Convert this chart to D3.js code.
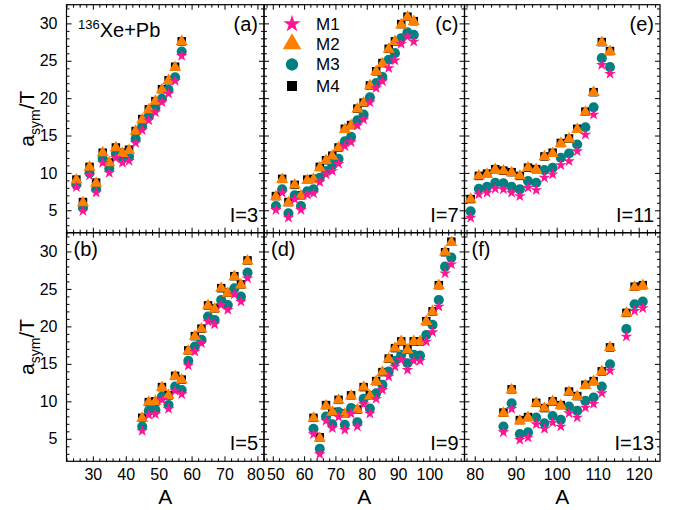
<!DOCTYPE html>
<html><head><meta charset="utf-8">
<script src="https://cdn.jsdelivr.net/npm/d3@7"></script>
<style>
body{margin:0;background:#fff;}
text{font-family:"Liberation Sans",Arial,sans-serif;fill:#000;}
</style></head>
<body><svg id="chart" width="673" height="510"></svg>
<script>
// ---- data ----
const A_a = [25,27,29,31,33,35,37,39,41,43,45,47,49,51,53,55,57];
const M1_a = [8.1,4.9,9.66,7.36,11.35,10.0,12.0,11.35,11.6,14.0,15.7,17.03,18.1,19.45,20.6,22.3,25.66];
const M2_a = [9.04,6.02,10.77,8.6,12.68,11.35,13.35,12.6,13.0,15.57,17.12,18.46,19.57,21.13,22.37,24.1,27.57];
const M3_a = [8.42,5.35,10.0,7.85,11.93,10.55,12.6,11.9,12.2,14.55,16.25,17.57,18.7,19.9,21.1,22.8,26.24];
const M4_a = [9.1,6.1,10.8,8.7,12.7,11.4,13.4,12.7,13.1,15.6,17.2,18.5,19.6,21.2,22.4,24.2,27.6];

const A_b = [45,47,49,51,53,55,57,59,61,63,65,67,69,71,73,75,77];
const M1_b = [6.06,8.2,8.28,10.2,8.99,11.39,10.95,14.77,16.64,17.75,20.64,20.28,22.86,22.2,24.28,23.3,26.42];
const M2_b = [7.75,9.88,9.97,11.84,10.77,13.3,12.86,16.73,18.64,19.66,22.77,22.33,25.08,24.42,26.64,25.52,28.72];
const M3_b = [6.64,8.73,8.86,10.64,9.52,11.97,11.52,15.4,17.3,18.2,21.3,20.86,23.53,22.86,25.08,23.97,27.17];
const M4_b = [7.8,9.9,10.0,11.9,10.8,13.4,12.9,16.8,18.7,19.7,22.8,22.4,25.1,24.5,26.7,25.6,28.8];

const A_c = [51,53,55,57,59,61,63,65,67,69,71,73,75,77,79,81,83,85,87,89,91,93,95];
const M1_c = [5.04,7.35,4.02,6.46,5.04,7.1,7.27,8.77,9.8,10.24,11.22,13.57,14.1,16.33,17.12,19.43,21.35,22.24,24.02,25.04,27.26,28.24,27.57];
const M2_c = [6.82,9.13,6.02,8.37,6.9,8.99,9.13,10.68,11.66,12.24,13.35,15.79,16.33,18.55,19.35,21.66,23.57,24.6,26.55,27.57,29.8,30.82,30.24];
const M3_c = [5.57,7.8,4.6,6.99,5.57,7.55,7.8,9.35,10.24,11.04,11.88,14.24,14.82,17.04,17.79,20.1,22.02,22.82,25.13,26.02,28.02,28.82,28.46];
const M4_c = [6.9,9.2,6.1,8.4,7.0,9.1,9.2,10.8,11.7,12.3,13.4,15.9,16.4,18.6,19.4,21.7,23.6,24.7,26.6,27.6,29.9,30.9,30.3];

const A_d = [63,65,67,69,71,73,75,77,79,81,83,85,87,89,91,93,95,97,99,101,103,105,107];
const M1_d = [5.62,2.95,7.4,6.42,7.92,6.2,8.37,6.64,9.62,8.37,10.33,11.52,13.3,14.64,15.53,14.2,15.4,15.4,17.97,19.22,22.64,27.08,28.28];
const M2_d = [7.75,5.08,9.39,8.55,10.14,8.28,10.72,8.86,11.88,10.72,12.64,13.88,15.66,17.08,17.97,16.86,17.97,17.97,20.64,21.97,25.44,29.88,31.2];
const M3_d = [6.33,3.66,7.97,6.95,8.58,6.86,9.12,7.22,10.33,9.03,11.08,12.2,13.97,15.4,16.2,15.08,16.2,16.1,18.86,20.2,23.53,27.97,29.17];
const M4_d = [7.8,5.2,9.5,8.6,10.2,8.4,10.8,8.9,11.9,10.8,12.7,13.9,15.7,17.1,18.0,16.9,18.0,18.0,20.7,22.0,25.5,29.9,31.3];

const A_e = [79,81,83,85,87,89,91,93,95,97,99,101,103,105,107,109,111,113];
const M1_e = [4.0,7.13,7.35,7.88,7.8,7.35,6.9,8.02,7.7,9.35,9.8,11.04,11.57,12.9,15.13,17.8,24.46,23.26];
const M2_e = [6.46,9.57,9.8,10.46,10.24,10.02,9.57,10.68,10.46,12.15,12.6,13.93,14.55,15.8,18.1,20.77,27.44,26.24];
const M3_e = [4.86,7.88,8.15,8.68,8.6,8.15,7.8,8.9,8.68,10.37,10.68,12.02,12.6,13.8,16.1,18.77,25.35,24.15];
const M4_e = [6.5,9.6,9.9,10.5,10.3,10.1,9.6,10.7,10.5,12.2,12.7,14.0,14.6,15.9,18.2,20.8,27.5,26.3];

const A_f = [87,89,91,93,95,97,99,101,103,105,107,109,111,113,117,119,121];
const M1_f = [5.88,9.0,4.86,5.17,6.95,6.33,7.17,6.64,8.42,7.84,9.17,9.66,11.08,14.1,18.64,22.06,22.42];
const M2_f = [8.42,11.53,7.39,7.84,9.75,9.08,9.97,9.44,11.22,10.64,12.11,12.64,13.97,17.17,21.75,25.22,25.44];
const M3_f = [6.64,9.75,5.62,5.88,7.84,7.08,8.05,7.53,9.3,8.73,10.06,10.51,11.97,14.95,19.66,22.95,23.31];
const M4_f = [8.5,11.6,7.5,7.9,9.8,9.1,10.0,9.5,11.3,10.7,12.2,12.7,14.0,17.2,21.8,25.3,25.5];

const seriesNames = ["M1","M2","M3","M4"];
const panelLabels = ["(a)","(b)","(c)","(d)","(e)","(f)"];
const isospin = ["I=3","I=5","I=7","I=9","I=11","I=13"];
const yTicks = [5,10,15,20,25,30];
const xTicks1 = [30,40,50,60,70,80];
const xTicks2 = [50,60,70,80,90,100];
const xTicks3 = [80,90,100,110,120];

// ---- layout ----
const svg = d3.select("#chart");
svg.append("rect").attr("width",673).attr("height",510).attr("fill","#fff");
const colR = [[66.5,264],[264,464.5],[464.5,660]];
const rowR = [[4.7,232.7],[232.7,461.3]];
const xDom = [[22,82],[47.2,111.2],[77.5,125.2]];
const xMaj = [xTicks1,xTicks2,xTicks3];
const yDom = [2,32.5];

const colors = {M1:"#ff1493",M2:"#ff8000",M3:"#008080",M4:"#000000"};
const symT = {M1:d3.symbolStar,M2:d3.symbolTriangle,M3:d3.symbolCircle,M4:d3.symbolSquare};
const symS = {M1:42,M2:64,M3:80,M4:72};
const legS = {M1:95,M2:150,M3:120,M4:100};

const panels = [
  {c:0,r:0,A:A_a,S:{M1:M1_a,M2:M2_a,M3:M3_a,M4:M4_a}},
  {c:0,r:1,A:A_b,S:{M1:M1_b,M2:M2_b,M3:M3_b,M4:M4_b}},
  {c:1,r:0,A:A_c,S:{M1:M1_c,M2:M2_c,M3:M3_c,M4:M4_c}},
  {c:1,r:1,A:A_d,S:{M1:M1_d,M2:M2_d,M3:M3_d,M4:M4_d}},
  {c:2,r:0,A:A_e,S:{M1:M1_e,M2:M2_e,M3:M3_e,M4:M4_e}},
  {c:2,r:1,A:A_f,S:{M1:M1_f,M2:M2_f,M3:M3_f,M4:M4_f}}
];

function range(a,b,s){const o=[];for(let v=a;v<=b+1e-9;v+=s)o.push(+v.toFixed(3));return o;}

panels.forEach((p,i)=>{
  const x = d3.scaleLinear().domain(xDom[p.c]).range(colR[p.c]);
  const y = d3.scaleLinear().domain(yDom).range([rowR[p.r][1],rowR[p.r][0]]);
  const g = svg.append("g");
  const x0=colR[p.c][0], x1=colR[p.c][1], y0=rowR[p.r][0], y1=rowR[p.r][1];
  const maj = xMaj[p.c];
  const xmin = range(Math.ceil(xDom[p.c][0]/2)*2, xDom[p.c][1], 2).filter(v=>!maj.includes(v));
  const ymin = range(3,32,1).filter(v=>v%5!==0);
  const styleAxis = sel=>{sel.select(".domain").remove();sel.selectAll("line").attr("stroke","#000").attr("stroke-width",1);sel.selectAll("text").style("font-size","16px").attr("font-family","Liberation Sans, Arial, sans-serif").attr("fill","#000");};
  // bottom
  const bx = g.append("g").attr("transform",`translate(0,${y1})`).call(d3.axisBottom(x).tickValues(maj).tickSize(-5).tickPadding(p.r===1?7:0).tickFormat(p.r===1?d3.format("d"):"")).call(styleAxis);
  if(p.r===1){
    // nudge the touching edge labels "80" | "50" apart slightly
    bx.selectAll("text").attr("dx",d=>(p.c===0&&d===80)?-2:(p.c===1&&d===50)?2.5:0);
  }
  g.append("g").attr("transform",`translate(0,${y1})`).call(d3.axisBottom(x).tickValues(xmin).tickSize(-3).tickFormat("")).call(styleAxis);
  // top
  g.append("g").attr("transform",`translate(0,${y0})`).call(d3.axisTop(x).tickValues(maj).tickSize(-5).tickFormat("")).call(styleAxis);
  g.append("g").attr("transform",`translate(0,${y0})`).call(d3.axisTop(x).tickValues(xmin).tickSize(-3).tickFormat("")).call(styleAxis);
  // left
  g.append("g").attr("transform",`translate(${x0},0)`).call(d3.axisLeft(y).tickValues(yTicks).tickSize(-5).tickPadding(p.c===0?9:0).tickFormat(p.c===0?d3.format("d"):"")).call(styleAxis);
  g.append("g").attr("transform",`translate(${x0},0)`).call(d3.axisLeft(y).tickValues(ymin).tickSize(-3).tickFormat("")).call(styleAxis);
  // right
  g.append("g").attr("transform",`translate(${x1},0)`).call(d3.axisRight(y).tickValues(yTicks).tickSize(-5).tickFormat("")).call(styleAxis);
  g.append("g").attr("transform",`translate(${x1},0)`).call(d3.axisRight(y).tickValues(ymin).tickSize(-3).tickFormat("")).call(styleAxis);
  // frame
  g.append("rect").attr("x",x0).attr("y",y0).attr("width",x1-x0).attr("height",y1-y0).attr("fill","none").attr("stroke","#000").attr("stroke-width",1.2);

  // markers (drawn M4, M3, M2, M1)
  ["M4","M3","M2","M1"].forEach(n=>{
    g.append("g").selectAll("path").data(p.A.map((a,k)=>[a,p.S[n][k]])).join("path")
      .attr("transform",d=>`translate(${x(d[0])},${y(d[1])})`)
      .attr("d",d3.symbol().type(symT[n]).size(symS[n]))
      .attr("fill",colors[n]);
  });

  // labels
  const lab = g.append("text").text(panelLabels[i]).style("font-size","20px");
  if(p.r===0) lab.attr("x",x1-6).attr("y",y0+26).attr("text-anchor","end");
  else lab.attr("x",x0+7).attr("y",y0+23).attr("text-anchor","start");
  g.append("text").text(isospin[i]).style("font-size","20px").attr("x",x1-6).attr("y",y1-11).attr("text-anchor","end");
});

// reaction label
const rt = svg.append("text").attr("x",78).attr("y",37).style("font-size","20px");
rt.append("tspan").text("136").style("font-size","13px").attr("dy",-8);
rt.append("tspan").text("Xe+Pb").attr("dy",8);

// legend in panel (c)
const legY = [24,44,64.5,86];
seriesNames.forEach((n,k)=>{
  svg.append("path").attr("transform",`translate(292,${legY[k]})`).attr("d",d3.symbol().type(symT[n]).size(legS[n])).attr("fill",colors[n]);
  svg.append("text").attr("x",316).attr("y",legY[k]).attr("dy","0.35em").style("font-size","17px").text(n);
});

// axis titles
[118.7,347].forEach(cy=>{
  const t = svg.append("text").attr("transform",`translate(34,${cy}) rotate(-90)`).attr("text-anchor","middle").style("font-size","21px");
  t.append("tspan").text("a");
  t.append("tspan").text("sym").style("font-size","14px").attr("dy",6);
  t.append("tspan").text("/T").attr("dy",-6);
});
colR.forEach(r=>{
  svg.append("text").attr("x",(r[0]+r[1])/2).attr("y",504).attr("text-anchor","middle").style("font-size","21px").text("A");
});
</script></body></html>
